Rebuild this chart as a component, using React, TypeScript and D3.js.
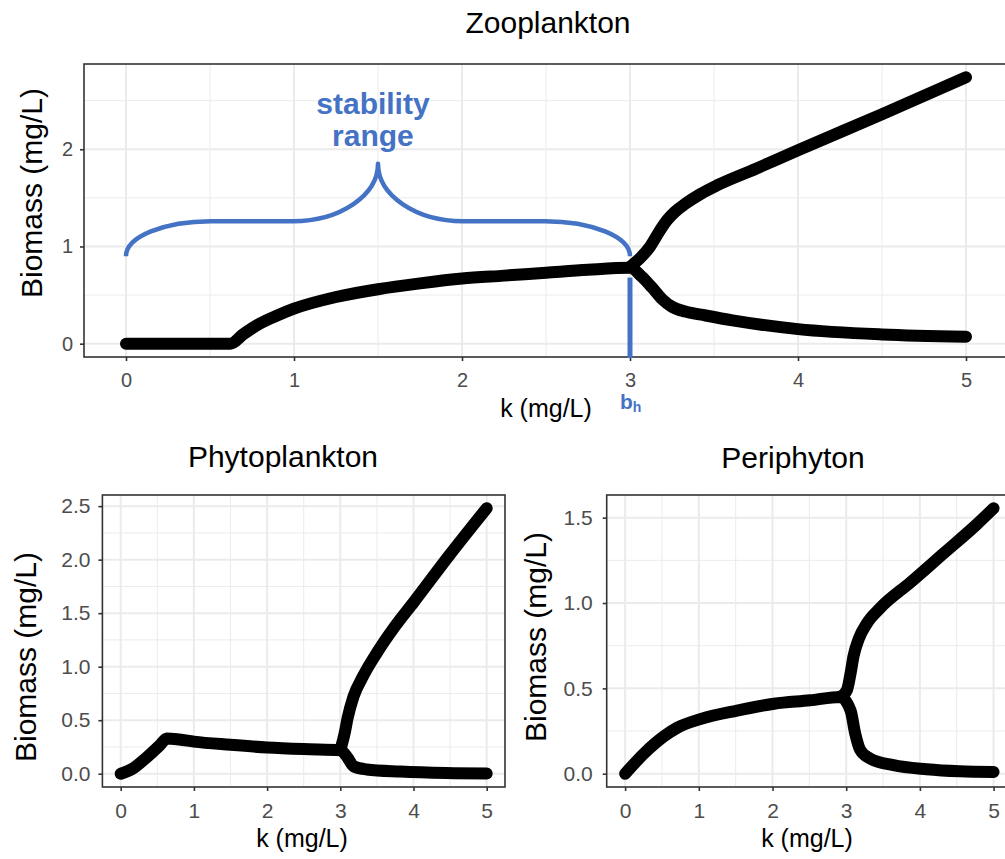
import React, { useEffect, useRef } from 'react';
import * as d3 from 'd3';

const K_TICKS = [0, 1, 2, 3, 4, 5];
const K_MINOR = [0.5, 1.5, 2.5, 3.5, 4.5];

// Zooplankton (top panel)
const ZOO_K_LOW = [0, 0.62, 0.7, 0.8, 0.9, 1.0, 1.25, 1.5, 1.75, 2.0, 2.25, 2.5, 2.75, 3.0, 3.07, 3.13, 3.19, 3.25, 3.33, 3.45, 3.61, 4.0, 4.5, 5.0];
const ZOO_LOW = [0, 0, 0.1, 0.21, 0.29, 0.36, 0.48, 0.56, 0.62, 0.67, 0.7, 0.73, 0.76, 0.78, 0.69, 0.58, 0.46, 0.38, 0.33, 0.29, 0.24, 0.15, 0.095, 0.072];
const ZOO_K_UP = [3.0, 3.06, 3.12, 3.18, 3.22, 3.27, 3.33, 3.42, 3.52, 3.75, 4.0, 4.5, 5.0];
const ZOO_UP = [0.79, 0.88, 1.0, 1.17, 1.27, 1.36, 1.44, 1.54, 1.63, 1.8, 1.99, 2.36, 2.74];
const ZOO_Y_TICKS = [0, 1, 2];
const ZOO_Y_MINOR = [0.5, 1.5, 2.5];

// Phytoplankton (bottom left)
const PHYTO_K_LOW = [0, 0.17, 0.35, 0.54, 0.63, 0.8, 1.0, 1.5, 2.0, 2.5, 3.0, 3.1, 3.18, 3.36, 3.82, 4.45, 5.0];
const PHYTO_LOW = [0, 0.05, 0.15, 0.27, 0.33, 0.32, 0.3, 0.27, 0.245, 0.23, 0.22, 0.15, 0.07, 0.04, 0.02, 0.006, 0.002];
const PHYTO_K_UP = [3.0, 3.06, 3.1, 3.18, 3.31, 3.5, 3.75, 4.0, 4.5, 5.0];
const PHYTO_UP = [0.22, 0.38, 0.52, 0.72, 0.91, 1.13, 1.38, 1.6, 2.05, 2.48];
const PHYTO_Y_TICKS = [0, 0.5, 1, 1.5, 2, 2.5];
const PHYTO_Y_MINOR = [0.25, 0.75, 1.25, 1.75, 2.25];

// Periphyton (bottom right)
const PERI_K_LOW = [0, 0.26, 0.53, 0.71, 1.02, 1.52, 2.02, 2.51, 2.92, 3.06, 3.12, 3.19, 3.32, 3.64, 4.09, 4.54, 5.0];
const PERI_LOW = [0, 0.12, 0.22, 0.27, 0.32, 0.37, 0.41, 0.43, 0.45, 0.37, 0.24, 0.14, 0.09, 0.05, 0.026, 0.014, 0.01];
const PERI_K_UP = [2.92, 3.01, 3.06, 3.1, 3.17, 3.28, 3.46, 3.87, 4.32, 4.77, 5.0];
const PERI_UP = [0.45, 0.49, 0.59, 0.69, 0.79, 0.88, 0.97, 1.12, 1.29, 1.46, 1.555];
const PERI_Y_TICKS = [0, 0.5, 1, 1.5];
const PERI_Y_MINOR = [0.25, 0.75, 1.25];

// annotation on the zooplankton panel
const BH = 3;
const BRACE_K = [0, 1.5, 3];
const BRACE_Y = [0.9, 1.26, 1.85];

const FONT = '"Liberation Sans", Arial, sans-serif';
const BLUE = '#4472C4';

function drawPanel(svg, p) {
  const x = d3.scaleLinear().domain([-0.25, 5.25]).range(p.xRange);
  const allY = p.low.concat(p.up);
  const yMin = d3.min(allY), yMax = d3.max(allY);
  const pad = (yMax - yMin) * 0.05;
  const y = d3.scaleLinear().domain([yMin - pad, yMax + pad]).range(p.yRange);

  const g = svg.append('g');
  const [x0, x1] = p.xRange;
  const [y1, y0] = p.yRange;

  // background + grid
  g.append('rect').attr('x', x0).attr('y', y0).attr('width', x1 - x0).attr('height', y1 - y0).attr('fill', '#fff');
  g.selectAll('.vminor').data(K_MINOR).enter().append('line')
    .attr('x1', d => x(d)).attr('x2', d => x(d)).attr('y1', y0).attr('y2', y1)
    .attr('stroke', '#EBEBEB').attr('stroke-width', 1);
  g.selectAll('.hminor').data(p.yMinor).enter().append('line')
    .attr('y1', d => y(d)).attr('y2', d => y(d)).attr('x1', x0).attr('x2', x1)
    .attr('stroke', '#EBEBEB').attr('stroke-width', 1);
  g.selectAll('.vmajor').data(K_TICKS).enter().append('line')
    .attr('x1', d => x(d)).attr('x2', d => x(d)).attr('y1', y0).attr('y2', y1)
    .attr('stroke', '#EBEBEB').attr('stroke-width', 2);
  g.selectAll('.hmajor').data(p.yTicks).enter().append('line')
    .attr('y1', d => y(d)).attr('y2', d => y(d)).attr('x1', x0).attr('x2', x1)
    .attr('stroke', '#EBEBEB').attr('stroke-width', 2);

  // the two branches
  const line = d3.line().x(d => x(d[0])).y(d => y(d[1])).curve(d3.curveMonotoneX);
  [[p.kLow, p.low], [p.kUp, p.up]].forEach(([ks, vs]) => {
    g.append('path')
      .attr('d', line(ks.map((k, i) => [k, vs[i]])))
      .attr('fill', 'none').attr('stroke', '#000').attr('stroke-width', p.lw)
      .attr('stroke-linecap', 'round').attr('stroke-linejoin', 'round');
  });

  g.append('rect').attr('x', x0).attr('y', y0).attr('width', x1 - x0).attr('height', y1 - y0)
    .attr('fill', 'none').attr('stroke', '#333').attr('stroke-width', 1.6);

  // axes
  const xAxis = g.append('g').attr('transform', `translate(0,${y1})`)
    .call(d3.axisBottom(x).tickValues(K_TICKS).tickSize(4).tickPadding(p.xPad).tickFormat(d3.format('d')));
  const yAxis = g.append('g').attr('transform', `translate(${x0},0)`)
    .call(d3.axisLeft(y).tickValues(p.yTicks).tickSize(4).tickPadding(p.yPad).tickFormat(d3.format(p.yFmt)));
  [xAxis, yAxis].forEach(a => {
    a.select('.domain').remove();
    a.selectAll('line').attr('stroke', '#333').attr('stroke-width', 1.6);
    a.selectAll('text').attr('fill', '#4D4D4D').style('font-family', FONT).style('font-size', `${p.tickSize}px`);
  });

  // titles
  g.append('text').attr('x', p.title[0]).attr('y', p.title[1]).attr('text-anchor', 'middle')
    .style('font-family', FONT).style('font-size', '30px').text(p.name);
  g.append('text').attr('x', p.xTitle[0]).attr('y', p.xTitle[1]).attr('text-anchor', 'middle')
    .style('font-family', FONT).style('font-size', '25px').text('k (mg/L)');
  g.append('text').attr('transform', `translate(${p.yTitle[0]},${p.yTitle[1]}) rotate(-90)`).attr('text-anchor', 'middle')
    .style('font-family', FONT).style('font-size', '30px').text('Biomass (mg/L)');

  return { x, y };
}

export default function App() {
  const ref = useRef(null);

  useEffect(() => {
    if (!ref.current) return;
    const svg = d3.select(ref.current);
    svg.selectAll('*').remove();

    const top = drawPanel(svg, {
      name: 'Zooplankton', kLow: ZOO_K_LOW, low: ZOO_LOW, kUp: ZOO_K_UP, up: ZOO_UP,
      yTicks: ZOO_Y_TICKS, yMinor: ZOO_Y_MINOR, yFmt: 'd',
      xRange: [84, 1008], yRange: [357, 64], lw: 12, tickSize: 20, xPad: 12, yPad: 7,
      title: [548, 33], xTitle: [546, 417], yTitle: [42, 193]
    });
    drawPanel(svg, {
      name: 'Phytoplankton', kLow: PHYTO_K_LOW, low: PHYTO_LOW, kUp: PHYTO_K_UP, up: PHYTO_UP,
      yTicks: PHYTO_Y_TICKS, yMinor: PHYTO_Y_MINOR, yFmt: '.1f',
      xRange: [102.4, 505], yRange: [787, 495], lw: 12, tickSize: 21, xPad: 12, yPad: 8,
      title: [283, 467], xTitle: [302, 847], yTitle: [36, 657]
    });
    drawPanel(svg, {
      name: 'Periphyton', kLow: PERI_K_LOW, low: PERI_LOW, kUp: PERI_K_UP, up: PERI_UP,
      yTicks: PERI_Y_TICKS, yMinor: PERI_Y_MINOR, yFmt: '.1f',
      xRange: [606.7, 1012], yRange: [787, 495], lw: 12, tickSize: 21, xPad: 12, yPad: 10,
      title: [793, 468], xTitle: [807, 847], yTitle: [546, 637]
    });

    // stability range brace
    const { x, y } = top;
    const xa = x(BRACE_K[0]), xm = x(BRACE_K[1]), xb = x(BRACE_K[2]);
    const ye = y(BRACE_Y[0]), yf = y(BRACE_Y[1]), yt = y(BRACE_Y[2]);
    const rEnd = 85, rMid = 85;
    const k = 0.552;
    const path = [
      `M${xa},${ye}`,
      `C${xa},${ye - k * (ye - yf)} ${xa + rEnd * (1 - k)},${yf} ${xa + rEnd},${yf}`,
      `L${xm - rMid},${yf}`,
      `C${xm - rMid * (1 - k)},${yf} ${xm},${yt + k * (yf - yt)} ${xm},${yt}`,
      `C${xm},${yt + k * (yf - yt)} ${xm + rMid * (1 - k)},${yf} ${xm + rMid},${yf}`,
      `L${xb - rEnd},${yf}`,
      `C${xb - rEnd * (1 - k)},${yf} ${xb},${ye - k * (ye - yf)} ${xb},${ye}`
    ].join(' ');
    svg.append('path').attr('d', path).attr('fill', 'none').attr('stroke', BLUE)
      .attr('stroke-width', 4.5).attr('stroke-linejoin', 'round');

    svg.append('line').attr('x1', x(BH)).attr('x2', x(BH)).attr('y1', y(0.68)).attr('y2', y(-0.148))
      .attr('stroke', BLUE).attr('stroke-width', 5);

    const lbl = svg.append('text').attr('x', x(1.47)).attr('text-anchor', 'middle')
      .style('font-family', FONT).style('font-size', '30px').style('font-weight', 'bold').attr('fill', BLUE);
    lbl.append('tspan').attr('x', x(1.47)).attr('y', y(2.36)).text('stability');
    lbl.append('tspan').attr('x', x(1.47)).attr('y', y(2.03)).text('range');

    const bh = svg.append('text').attr('x', x(BH) - 10).attr('y', 409)
      .style('font-family', FONT).style('font-weight', 'bold').attr('fill', BLUE);
    bh.append('tspan').style('font-size', '21px').text('b');
    bh.append('tspan').attr('dy', 3).style('font-size', '14px').text('h');
  }, []);

  return (
    <svg ref={ref} width={1005} height={859}
      style={{ position: 'absolute', left: 0, top: 0, background: '#fff' }} />
  );
}
